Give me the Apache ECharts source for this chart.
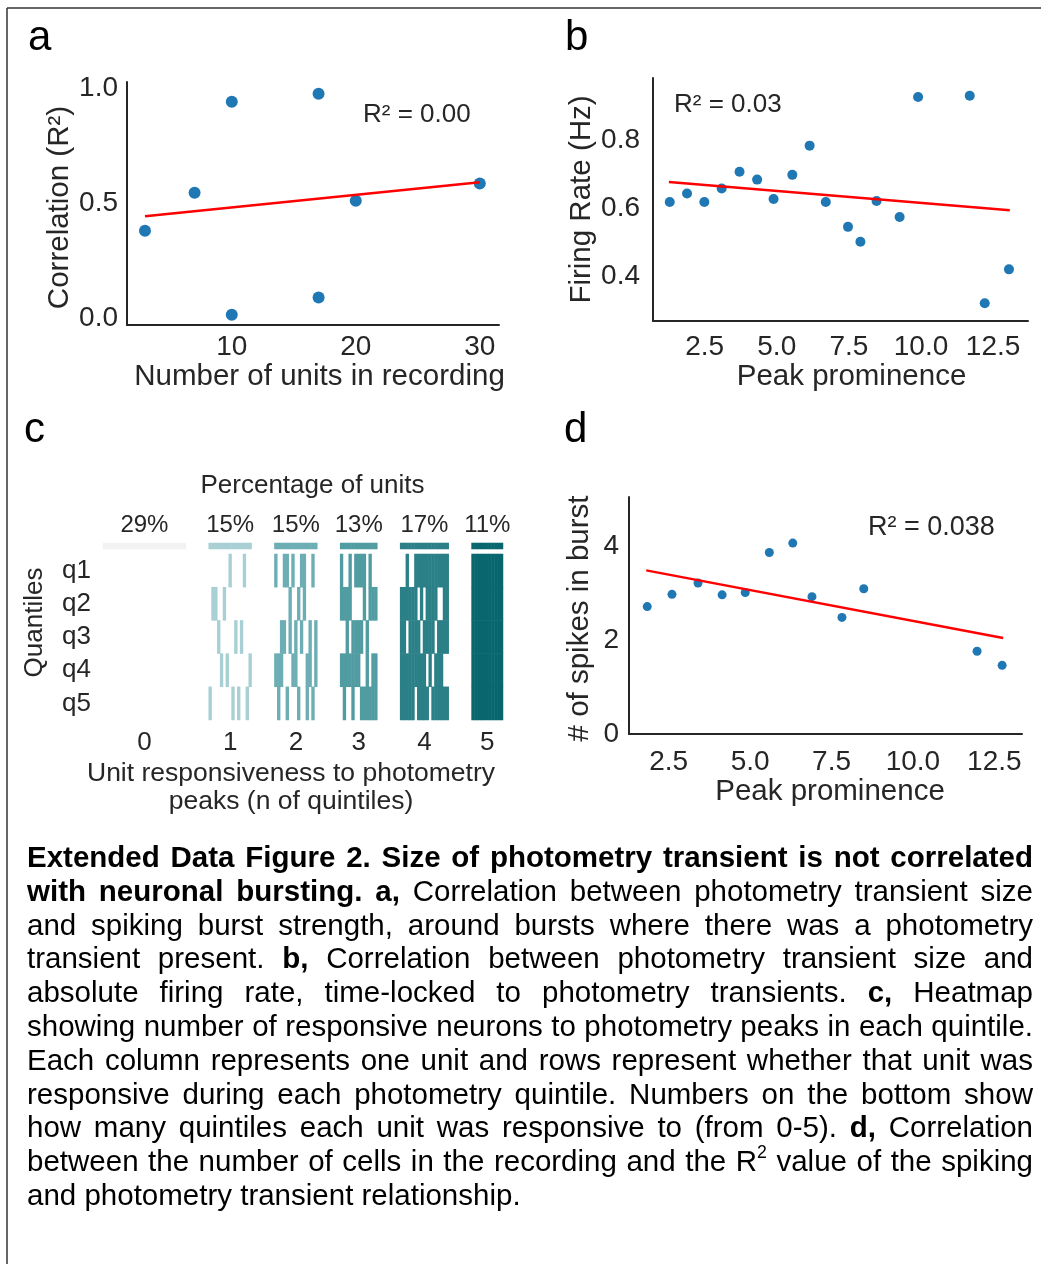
<!DOCTYPE html>
<html>
<head>
<meta charset="utf-8">
<script src="https://cdn.jsdelivr.net/npm/echarts@6/dist/echarts.min.js"></script>
<style>
  html, body { margin: 0; padding: 0; background: #fff; }
  #wrap { position: relative; width: 1041px; height: 1264px; overflow: hidden; }
  #fig { position: absolute; left: 0; top: 0; width: 1041px; height: 1264px; }
  #caption {
    position: absolute; left: 27px; top: 840px; width: 1006px;
    font-family: 'Liberation Sans', Arial, sans-serif; font-size: 29.5px;
    line-height: 33.8px; color: #000;
  }
  #caption div { text-align: justify; text-align-last: justify; }
  #caption div.last { text-align-last: left; }
  #caption sup { font-size: 0.6em; line-height: 0; vertical-align: 0.75em; }
</style>
</head>
<body>
<div id="wrap">
  <div id="fig"></div>
  <div id="caption">
    <div><b>Extended Data Figure 2. Size of photometry transient is not correlated</b></div>
    <div><b>with neuronal bursting. a,</b> Correlation between photometry transient size</div>
    <div>and spiking burst strength, around bursts where there was a photometry</div>
    <div>transient present. <b>b,</b> Correlation between photometry transient size and</div>
    <div>absolute firing rate, time-locked to photometry transients. <b>c,</b> Heatmap</div>
    <div>showing number of responsive neurons to photometry peaks in each quintile.</div>
    <div>Each column represents one unit and rows represent whether that unit was</div>
    <div>responsive during each photometry quintile. Numbers on the bottom show</div>
    <div>how many quintiles each unit was responsive to (from 0-5). <b>d,</b> Correlation</div>
    <div>between the number of cells in the recording and the R<sup>2</sup> value of the spiking</div>
    <div class="last">and photometry transient relationship.</div>
  </div>
</div>
<script>
var fig = echarts.init(document.getElementById('fig'));
var FONT = "'Liberation Sans', Arial, sans-serif";

// a: R2 of spiking/photometry relationship vs number of units
var aUnits = [3, 7, 10, 10, 17, 17, 20, 30];
var aCorr = [0.38, 0.545, 0.94, 0.015, 0.975, 0.09, 0.51, 0.585];
var aFit = [[3, 0.443], [30, 0.59]];

// b: firing rate vs peak prominence
var bProm = [1.29, 1.89, 2.49, 3.09, 3.71, 4.32, 4.89, 5.54, 6.14, 6.70, 7.47, 7.90, 8.46, 9.26, 9.90, 11.69, 12.21, 13.05];
var bRate = [0.618, 0.643, 0.618, 0.658, 0.707, 0.684, 0.627, 0.698, 0.784, 0.618, 0.545, 0.501, 0.621, 0.574, 0.927, 0.931, 0.320, 0.420];
var bFit = [[1.26, 0.677], [13.08, 0.594]];

// d: spikes in burst vs peak prominence
var dProm = [1.84, 2.60, 3.40, 4.14, 4.85, 5.59, 6.31, 6.90, 7.82, 8.49, 11.97, 12.74];
var dSpikes = [2.71, 2.97, 3.21, 2.96, 3.01, 3.86, 4.06, 2.92, 2.48, 3.09, 1.76, 1.46];
var dFit = [[1.81, 3.48], [12.77, 2.04]];

// c: responsiveness heatmap
var quintiles = ['q1', 'q2', 'q3', 'q4', 'q5'];
var groupLabels = ['0', '1', '2', '3', '4', '5'];
var groupPct = [29, 15, 15, 13, 17, 11];   // one unit per percent
var g1Resp = [[5], [2], [2], [3], [4], [2], [4], [1], [5], [3], [5], [3], [1], [5], [4]];
var g2Resp = [[1, 4], [4, 5], [3, 4], [1, 3], [1, 5], [2, 3], [1, 4], [3, 4], [2, 5], [1, 3], [1, 2], [4, 5], [3, 4], [1, 5], [3, 4]];
var g3Resp = [[1, 2, 4], [2, 4, 5], [2, 3, 4], [1, 2, 4], [3, 4, 5], [1, 3, 4], [1, 3, 4], [1, 3, 5], [1, 2, 5], [3, 4, 5], [1, 2, 5], [2, 4, 5], [2, 4, 5]];
var g4Miss = [1, 1, 3, 1, 1, 5, 2, 3, 2, 4, 5, 4, 3, 2, 2, 4, 4];   // the one quintile missed

var groupColors = ['#f2f2f2', '#a8d0d4', '#6caeb4', '#509ca1', '#2b8088', '#08666f'];

var respByGroup = [[], g1Resp, g2Resp, g3Resp, [], []];
for (var u = 0; u < groupPct[0]; u++) respByGroup[0].push([]);
g4Miss.forEach(function (m) {
    respByGroup[4].push([1, 2, 3, 4, 5].filter(function (q) { return q !== m; }));
});
for (var u = 0; u < groupPct[5]; u++) respByGroup[5].push([1, 2, 3, 4, 5]);

var gapSlots = 8;
var groupStart = [], slot = 0;
groupPct.forEach(function (n) { groupStart.push(slot); slot += n + gapSlots; });
var totalSlots = slot - gapSlots;
var slots = [];
for (var i = 0; i < totalSlots; i++) slots.push(String(i));
var centerLabel = {}, centerPct = {};
groupPct.forEach(function (n, g) {
    var c = groupStart[g] + Math.floor(n / 2);
    centerLabel[c] = groupLabels[g];
    centerPct[c] = groupPct[g] + '%';
});

var barCells = [], cells = [];
respByGroup.forEach(function (units, g) {
    units.forEach(function (resp, k) {
        var x = groupStart[g] + k;
        barCells.push([x, 0, g]);
        resp.forEach(function (q) { cells.push([x, q - 1, g]); });
    });
});

function zip(xs, ys) { return xs.map(function (x, i) { return [x, ys[i]]; }); }

var ink = '#262626';
function valueAxis(grid, min, max, ticks, digits, margin, name, gap, pad) {
    return {
        type: 'value', gridIndex: grid, min: min, max: max,
        name: name, nameLocation: 'middle', nameGap: gap,
        nameTextStyle: { fontSize: 29.5, color: ink, fontFamily: FONT, padding: pad },
        axisLine: { show: true, onZero: false, lineStyle: { color: ink, width: 2 } },
        axisTick: { show: false },
        splitLine: { show: false },
        axisLabel: {
            customValues: ticks, margin: margin, fontSize: 28, color: ink, fontFamily: FONT,
            formatter: function (v) { return v.toFixed(digits); }
        }
    };
}

option = {
    animation: false,
    backgroundColor: '#fff',
    grid: [
        { left: 127, top: 82, width: 372, height: 243 },
        { left: 653, top: 78, width: 375, height: 243 },
        { left: 629, top: 497, width: 393, height: 237 },
        { left: 103, top: 543, width: 400, height: 6 },
        { left: 103, top: 554, width: 400, height: 166 }
    ],
    xAxis: [
        valueAxis(0, 1.55, 31.55, [10, 20, 30], 0, 8, 'Number of units in recording', 30, [0, 0, 0, 13]),
        valueAxis(1, 0.71, 13.71, [2.5, 5, 7.5, 10, 12.5], 1, 12, 'Peak prominence', 41, [0, 0, 0, 22]),
        valueAxis(2, 1.28, 13.35, [2.5, 5, 7.5, 10, 12.5], 1, 14, 'Peak prominence', 43, [0, 0, 0, 9]),
        {
            type: 'category', gridIndex: 3, position: 'top', data: slots,
            name: 'Percentage of units', nameLocation: 'middle', nameGap: 44,
            nameTextStyle: { fontSize: 26, color: ink, fontFamily: FONT, padding: [0, 0, 0, 19] },
            axisLine: { show: false }, axisTick: { show: false },
            axisLabel: {
                interval: 0, margin: 6, fontSize: 24, color: ink, fontFamily: FONT,
                formatter: function (v) { return centerPct[v] || ''; }
            }
        },
        {
            type: 'category', gridIndex: 4, data: slots,
            name: 'Unit responsiveness to photometry\npeaks (n of quintiles)',
            nameLocation: 'middle', nameGap: 39,
            nameTextStyle: { fontSize: 26.5, lineHeight: 28.4, color: ink, fontFamily: FONT, padding: [0, 24, 0, 0] },
            axisLine: { show: false }, axisTick: { show: false },
            axisLabel: {
                interval: 0, margin: 10, fontSize: 26, color: ink, fontFamily: FONT,
                formatter: function (v) { return centerLabel[v] || ''; }
            }
        }
    ],
    yAxis: [
        Object.assign(valueAxis(0, -0.03, 1.026, [0, 0.5, 1], 1, 9, 'Correlation (R²)', 50, [0, 8, 0, 0]), { nameRotate: 90 }),
        Object.assign(valueAxis(1, 0.268, 0.983, [0.4, 0.6, 0.8], 1, 13, 'Firing Rate (Hz)', 56, [0, 0, 0, 0]), { nameRotate: 90 }),
        Object.assign(valueAxis(2, 0, 5.04, [0, 2, 4], 0, 10, '# of spikes in burst', 34, [0, 6, 0, 0]), { nameRotate: 90 }),
        {
            type: 'category', gridIndex: 3, data: ['pct'],
            axisLine: { show: false }, axisTick: { show: false }, axisLabel: { show: false }
        },
        {
            type: 'category', gridIndex: 4, data: quintiles, inverse: true,
            name: 'Quantiles', nameLocation: 'middle', nameGap: 55, nameRotate: 90,
            nameTextStyle: { fontSize: 26, color: ink, fontFamily: FONT, padding: [0, 0, 0, 29] },
            axisLine: { show: false }, axisTick: { show: false },
            axisLabel: { interval: 0, margin: 12, fontSize: 26, color: ink, fontFamily: FONT }
        }
    ],
    visualMap: {
        type: 'piecewise', show: false, dimension: 2, seriesIndex: [6, 7],
        pieces: groupColors.map(function (c, i) { return { value: i, color: c }; })
    },
    series: [
        { type: 'scatter', xAxisIndex: 0, yAxisIndex: 0, data: zip(aUnits, aCorr), symbolSize: 12, itemStyle: { color: '#1f77b4', opacity: 1 } },
        { type: 'line', xAxisIndex: 0, yAxisIndex: 0, data: aFit, showSymbol: false, lineStyle: { color: '#ff0000', width: 2.5 } },
        { type: 'scatter', xAxisIndex: 1, yAxisIndex: 1, data: zip(bProm, bRate), symbolSize: 10, itemStyle: { color: '#1f77b4', opacity: 1 } },
        { type: 'line', xAxisIndex: 1, yAxisIndex: 1, data: bFit, showSymbol: false, lineStyle: { color: '#ff0000', width: 2.5 } },
        { type: 'scatter', xAxisIndex: 2, yAxisIndex: 2, data: zip(dProm, dSpikes), symbolSize: 9, itemStyle: { color: '#1f77b4', opacity: 1 } },
        { type: 'line', xAxisIndex: 2, yAxisIndex: 2, data: dFit, showSymbol: false, lineStyle: { color: '#ff0000', width: 2.5 } },
        { type: 'heatmap', xAxisIndex: 3, yAxisIndex: 3, data: barCells, emphasis: { disabled: true } },
        { type: 'heatmap', xAxisIndex: 4, yAxisIndex: 4, data: cells, emphasis: { disabled: true } }
    ],
    graphic: [
        { type: 'line', shape: { x1: 7, y1: 8, x2: 1041, y2: 8 }, style: { stroke: '#333', lineWidth: 1.5 } },
        { type: 'line', shape: { x1: 7, y1: 8, x2: 7, y2: 1264 }, style: { stroke: '#333', lineWidth: 1.5 } },
        { type: 'text', style: { text: 'a', x: 28, y: 38, fontSize: 42, fontFamily: FONT, fill: '#000', verticalAlign: 'middle' } },
        { type: 'text', style: { text: 'b', x: 565, y: 38, fontSize: 42, fontFamily: FONT, fill: '#000', verticalAlign: 'middle' } },
        { type: 'text', style: { text: 'c', x: 24, y: 430, fontSize: 42, fontFamily: FONT, fill: '#000', verticalAlign: 'middle' } },
        { type: 'text', style: { text: 'd', x: 564, y: 430, fontSize: 42, fontFamily: FONT, fill: '#000', verticalAlign: 'middle' } },
        { type: 'text', style: { text: 'R² = 0.00', x: 363, y: 115, fontSize: 26, fontFamily: FONT, fill: ink, verticalAlign: 'middle' } },
        { type: 'text', style: { text: 'R² = 0.03', x: 674, y: 105, fontSize: 26, fontFamily: FONT, fill: ink, verticalAlign: 'middle' } },
        { type: 'text', style: { text: 'R² = 0.038', x: 868, y: 528, fontSize: 27, fontFamily: FONT, fill: ink, verticalAlign: 'middle' } }
    ]
};

fig.setOption(option);
window.addEventListener('resize', function () { fig.resize(); });
</script>
</body>
</html>
